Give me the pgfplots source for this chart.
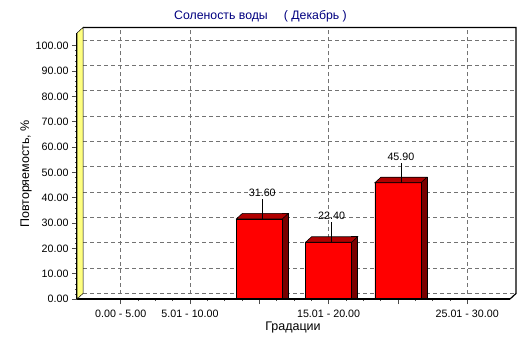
\documentclass[border=0pt]{standalone}
\usepackage{fontspec}
\setmainfont{Liberation Sans}
\usepackage{pgfplots}
\usepackage{pgfplotstable}
\pgfplotsset{compat=1.18}
\definecolor{barfront}{RGB}{255,0,0}
\definecolor{bartop}{RGB}{176,0,0}
\definecolor{barside}{RGB}{120,0,0}
\definecolor{wall}{RGB}{255,255,128}
\definecolor{titleblue}{RGB}{0,0,128}
\pgfdeclareplotmark{topface}{%
  \pgfpathmoveto{\pgfqpoint{-23pt}{0pt}}%
  \pgfpathlineto{\pgfqpoint{23pt}{0pt}}%
  \pgfpathlineto{\pgfqpoint{29pt}{5.5pt}}%
  \pgfpathlineto{\pgfqpoint{-17pt}{5.5pt}}%
  \pgfpathclose
  \pgfusepathqfillstroke}
\pgfplotstableread{
x y
2 31.6
3 22.4
4 45.9
}\datatable
\begin{document}
\begin{tikzpicture}[x=1pt,y=1pt]
\path[use as bounding box] (0,0) rectangle (532,343);
\begin{axis}[
  at={(77pt,44pt)}, anchor=south west,
  scale only axis, width=433pt, height=266pt,
  xmin=-0.631, xmax=5.618, ymin=0, ymax=105,
  clip=false,
  axis line style={draw=none},
  xtick pos=bottom, ytick pos=left, tick align=outside,
  xtick={0,...,5},
  xticklabels={0.00 - 5.00, 5.01 - 10.00, {}, 15.01 - 20.00, {}, 25.01 - 30.00},
  xticklabel style={yshift=-2pt},
  minor x tick num=3,
  ytick={0,10,...,100},
  minor y tick num=4,
  yticklabel={\pgfmathprintnumber[fixed,fixed zerofill,precision=2,assume math mode=true]{\tick}},
  major tick length=5pt, minor tick length=2pt,
  tick style={black!70, line width=0.6pt},
  extra x ticks={0,1,3,5}, extra x tick labels={},
  extra x tick style={grid=major, major tick length=0pt},
  ymajorgrids,
  grid style={dash pattern=on 4pt off 3pt, black!55, line width=0.7pt},
  every axis y grid/.append style={xshift=6pt, yshift=5.5pt},
  every axis x grid/.append style={yshift=5.5pt},
  tick label style={font=\fontsize{10.7}{12}\selectfont},
]
\addplot[ybar, bar width=6pt, bar shift=26pt, fill=barside, draw=black, line width=0.6pt]
  table[x=x, y expr=\thisrow{y}+2.17] {\datatable};
\addplot[ybar, bar width=46pt, bar shift=0pt, fill=barfront, draw=black, line width=0.6pt]
  table[x=x, y=y] {\datatable};
\addplot[only marks, mark=topface, mark options={fill=bartop, draw=black, line width=0.6pt}]
  table[x=x, y=y] {\datatable};
\addplot[draw=none, mark=none, nodes near coords={\rule{0.7pt}{20pt}},
  every node near coord/.style={anchor=south, inner sep=0pt, xshift=3pt}]
  table[x=x, y=y] {\datatable};
\addplot[draw=none, mark=none,
  nodes near coords={\pgfmathprintnumber[fixed,fixed zerofill,precision=2,assume math mode=true]{\pgfplotspointmeta}},
  every node near coord/.style={anchor=south, inner sep=0pt, xshift=3pt, yshift=22pt, font=\fontsize{10.7}{12}\selectfont}]
  table[x=x, y=y] {\datatable};
% frame
\draw[black, line width=1.2pt] ([xshift=6pt,yshift=5.5pt]rel axis cs:0,1) -- ([xshift=6pt,yshift=5.5pt]rel axis cs:1,1) -- ([xshift=6pt,yshift=5.5pt]rel axis cs:1,0) -- (rel axis cs:1,0);
\draw[black, line width=2pt] (rel axis cs:1,0) -- (rel axis cs:0,0);
% wall
\filldraw[fill=wall, draw=black, line width=0.5pt] (rel axis cs:0,0) -- (rel axis cs:0,1) -- ([xshift=6pt,yshift=5.5pt]rel axis cs:0,1) -- ([xshift=6pt,yshift=5.5pt]rel axis cs:0,0) -- cycle;
\draw[black, line width=1.8pt] ([xshift=-0.6pt]rel axis cs:0,0) -- ([xshift=-0.6pt]rel axis cs:0,1);
\end{axis}
\node[text=titleblue, font=\fontsize{12.3}{14}\selectfont] at (260.5,327) {Соленость воды\hspace{16pt}( Декабрь )};
\node[rotate=90, font=\fontsize{12.5}{14}\selectfont] at (26,169) {Повторяемость, \%};
\node[font=\fontsize{12.5}{14}\selectfont] at (293,16) {Градации};
\end{tikzpicture}
\end{document}
